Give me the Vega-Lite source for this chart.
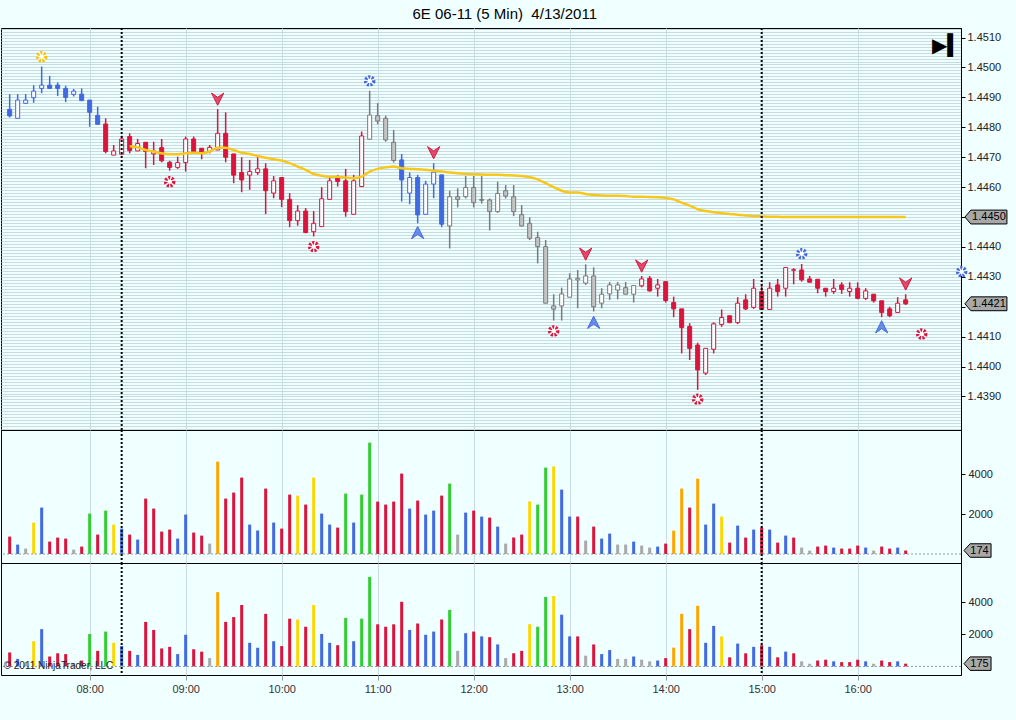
{
  "$schema": "https://vega.github.io/schema/vega-lite/v6.json",
  "description": "6E 06-11 5 minute candles with SMA, signals and volume, 4/13/2011",
  "background": "#F0FFFF",
  "padding": {"top": 7, "left": 0, "right": 11, "bottom": 30},
  "bounds": "flush",
  "title": {
    "text": "6E 06-11 (5 Min)\u00a0 4/13/2011",
    "font": "Liberation Sans",
    "fontSize": 15,
    "fontWeight": "normal",
    "color": "black",
    "anchor": "middle",
    "offset": 0
  },
  "config": {
    "view": {"stroke": "black", "strokeWidth": 1},
    "concat": {"spacing": 0},
    "axis": {
      "labelFont": "Liberation Sans",
      "labelFontSize": 11,
      "labelColor": "#222222",
      "domainColor": "black",
      "tickColor": "black",
      "gridColor": "#C6DCE2",
      "gridOpacity": 1
    }
  },
  "spacing": 0,
  "datasets": {
    "bars": [
      {"t": "2011-04-13 07:10", "o": 1.44860, "h": 1.44911, "l": 1.44833, "c": 1.44838, "k": "blue", "v": 870, "vk": "red", "ma": null},
      {"t": "2011-04-13 07:15", "o": 1.44830, "h": 1.44911, "l": 1.44830, "c": 1.44891, "k": "blue", "v": 470, "vk": "blue", "ma": null},
      {"t": "2011-04-13 07:20", "o": 1.44880, "h": 1.44911, "l": 1.44880, "c": 1.44891, "k": "blue", "v": 270, "vk": "gray", "ma": null},
      {"t": "2011-04-13 07:25", "o": 1.44899, "h": 1.44941, "l": 1.44882, "c": 1.44921, "k": "blue", "v": 1570, "vk": "yellow", "ma": null},
      {"t": "2011-04-13 07:30", "o": 1.44930, "h": 1.45003, "l": 1.44914, "c": 1.44941, "k": "blue", "v": 2320, "vk": "blue", "ma": null},
      {"t": "2011-04-13 07:35", "o": 1.44941, "h": 1.44972, "l": 1.44930, "c": 1.44930, "k": "blue", "v": 620, "vk": "red", "ma": null},
      {"t": "2011-04-13 07:40", "o": 1.44941, "h": 1.44950, "l": 1.44905, "c": 1.44930, "k": "blue", "v": 820, "vk": "red", "ma": null},
      {"t": "2011-04-13 07:45", "o": 1.44930, "h": 1.44939, "l": 1.44884, "c": 1.44900, "k": "blue", "v": 770, "vk": "red", "ma": null},
      {"t": "2011-04-13 07:50", "o": 1.44910, "h": 1.44928, "l": 1.44903, "c": 1.44921, "k": "blue", "v": 220, "vk": "gray", "ma": null},
      {"t": "2011-04-13 07:55", "o": 1.44911, "h": 1.44930, "l": 1.44889, "c": 1.44889, "k": "blue", "v": 370, "vk": "red", "ma": null},
      {"t": "2011-04-13 08:00", "o": 1.44891, "h": 1.44891, "l": 1.44802, "c": 1.44850, "k": "blue", "v": 2020, "vk": "green", "ma": null},
      {"t": "2011-04-13 08:05", "o": 1.44840, "h": 1.44869, "l": 1.44810, "c": 1.44810, "k": "blue", "v": 970, "vk": "red", "ma": null},
      {"t": "2011-04-13 08:10", "o": 1.44811, "h": 1.44830, "l": 1.44713, "c": 1.44719, "k": "red", "v": 2170, "vk": "green", "ma": null},
      {"t": "2011-04-13 08:15", "o": 1.44707, "h": 1.44741, "l": 1.44707, "c": 1.44721, "k": "red", "v": 1470, "vk": "yellow", "ma": null},
      {"t": "2011-04-13 08:20", "o": 1.44710, "h": 1.44772, "l": 1.44707, "c": 1.44761, "k": "red", "v": 1270, "vk": "blue", "ma": null},
      {"t": "2011-04-13 08:25", "o": 1.44769, "h": 1.44780, "l": 1.44713, "c": 1.44722, "k": "red", "v": 970, "vk": "red", "ma": 1.44737},
      {"t": "2011-04-13 08:30", "o": 1.44721, "h": 1.44761, "l": 1.44721, "c": 1.44746, "k": "red", "v": 720, "vk": "blue", "ma": 1.44733},
      {"t": "2011-04-13 08:35", "o": 1.44750, "h": 1.44750, "l": 1.44663, "c": 1.44719, "k": "red", "v": 2770, "vk": "red", "ma": 1.44724},
      {"t": "2011-04-13 08:40", "o": 1.44711, "h": 1.44752, "l": 1.44674, "c": 1.44721, "k": "red", "v": 2270, "vk": "red", "ma": 1.44719},
      {"t": "2011-04-13 08:45", "o": 1.44732, "h": 1.44761, "l": 1.44683, "c": 1.44688, "k": "red", "v": 1120, "vk": "red", "ma": 1.44713},
      {"t": "2011-04-13 08:50", "o": 1.44683, "h": 1.44688, "l": 1.44655, "c": 1.44666, "k": "red", "v": 1220, "vk": "red", "ma": 1.44710},
      {"t": "2011-04-13 08:55", "o": 1.44666, "h": 1.44702, "l": 1.44661, "c": 1.44682, "k": "red", "v": 770, "vk": "blue", "ma": 1.44710},
      {"t": "2011-04-13 09:00", "o": 1.44682, "h": 1.44769, "l": 1.44652, "c": 1.44761, "k": "red", "v": 1970, "vk": "blue", "ma": 1.44713},
      {"t": "2011-04-13 09:05", "o": 1.44761, "h": 1.44769, "l": 1.44719, "c": 1.44719, "k": "red", "v": 1070, "vk": "red", "ma": 1.44715},
      {"t": "2011-04-13 09:10", "o": 1.44730, "h": 1.44730, "l": 1.44693, "c": 1.44713, "k": "red", "v": 920, "vk": "red", "ma": 1.44713},
      {"t": "2011-04-13 09:15", "o": 1.44719, "h": 1.44741, "l": 1.44713, "c": 1.44733, "k": "red", "v": 520, "vk": "gray", "ma": 1.44719},
      {"t": "2011-04-13 09:20", "o": 1.44724, "h": 1.44861, "l": 1.44724, "c": 1.44780, "k": "red", "v": 4620, "vk": "orange", "ma": 1.44732},
      {"t": "2011-04-13 09:25", "o": 1.44780, "h": 1.44850, "l": 1.44683, "c": 1.44700, "k": "red", "v": 2770, "vk": "red", "ma": 1.44732},
      {"t": "2011-04-13 09:30", "o": 1.44711, "h": 1.44711, "l": 1.44613, "c": 1.44640, "k": "red", "v": 3070, "vk": "red", "ma": 1.44724},
      {"t": "2011-04-13 09:35", "o": 1.44649, "h": 1.44700, "l": 1.44583, "c": 1.44624, "k": "red", "v": 3820, "vk": "red", "ma": 1.44715},
      {"t": "2011-04-13 09:40", "o": 1.44640, "h": 1.44691, "l": 1.44591, "c": 1.44652, "k": "red", "v": 1470, "vk": "blue", "ma": 1.44711},
      {"t": "2011-04-13 09:45", "o": 1.44649, "h": 1.44700, "l": 1.44641, "c": 1.44661, "k": "red", "v": 1170, "vk": "blue", "ma": 1.44704},
      {"t": "2011-04-13 09:50", "o": 1.44661, "h": 1.44680, "l": 1.44510, "c": 1.44588, "k": "red", "v": 3270, "vk": "red", "ma": 1.44698},
      {"t": "2011-04-13 09:55", "o": 1.44580, "h": 1.44637, "l": 1.44563, "c": 1.44621, "k": "red", "v": 1570, "vk": "blue", "ma": 1.44693},
      {"t": "2011-04-13 10:00", "o": 1.44632, "h": 1.44632, "l": 1.44533, "c": 1.44559, "k": "red", "v": 1270, "vk": "red", "ma": 1.44689},
      {"t": "2011-04-13 10:05", "o": 1.44559, "h": 1.44580, "l": 1.44466, "c": 1.44488, "k": "red", "v": 2970, "vk": "red", "ma": 1.44680},
      {"t": "2011-04-13 10:10", "o": 1.44488, "h": 1.44540, "l": 1.44471, "c": 1.44520, "k": "red", "v": 2920, "vk": "yellow", "ma": 1.44669},
      {"t": "2011-04-13 10:15", "o": 1.44520, "h": 1.44530, "l": 1.44446, "c": 1.44448, "k": "red", "v": 2470, "vk": "red", "ma": 1.44658},
      {"t": "2011-04-13 10:20", "o": 1.44451, "h": 1.44520, "l": 1.44435, "c": 1.44479, "k": "red", "v": 3820, "vk": "yellow", "ma": 1.44644},
      {"t": "2011-04-13 10:25", "o": 1.44468, "h": 1.44600, "l": 1.44468, "c": 1.44561, "k": "red", "v": 2020, "vk": "blue", "ma": 1.44638},
      {"t": "2011-04-13 10:30", "o": 1.44559, "h": 1.44632, "l": 1.44559, "c": 1.44621, "k": "red", "v": 1470, "vk": "blue", "ma": 1.44635},
      {"t": "2011-04-13 10:35", "o": 1.44632, "h": 1.44641, "l": 1.44602, "c": 1.44619, "k": "red", "v": 1320, "vk": "red", "ma": 1.44635},
      {"t": "2011-04-13 10:40", "o": 1.44621, "h": 1.44661, "l": 1.44501, "c": 1.44518, "k": "red", "v": 3020, "vk": "green", "ma": 1.44632},
      {"t": "2011-04-13 10:45", "o": 1.44509, "h": 1.44641, "l": 1.44509, "c": 1.44621, "k": "red", "v": 1570, "vk": "blue", "ma": 1.44630},
      {"t": "2011-04-13 10:50", "o": 1.44602, "h": 1.44786, "l": 1.44602, "c": 1.44771, "k": "red", "v": 2970, "vk": "green", "ma": 1.44635},
      {"t": "2011-04-13 10:55", "o": 1.44760, "h": 1.44922, "l": 1.44760, "c": 1.44841, "k": "gray", "v": 5570, "vk": "green", "ma": 1.44652},
      {"t": "2011-04-13 11:00", "o": 1.44839, "h": 1.44881, "l": 1.44810, "c": 1.44821, "k": "gray", "v": 2620, "vk": "red", "ma": 1.44661},
      {"t": "2011-04-13 11:05", "o": 1.44830, "h": 1.44839, "l": 1.44752, "c": 1.44758, "k": "gray", "v": 2470, "vk": "red", "ma": 1.44666},
      {"t": "2011-04-13 11:10", "o": 1.44750, "h": 1.44791, "l": 1.44682, "c": 1.44689, "k": "gray", "v": 2620, "vk": "red", "ma": 1.44669},
      {"t": "2011-04-13 11:15", "o": 1.44691, "h": 1.44711, "l": 1.44552, "c": 1.44624, "k": "blue", "v": 4020, "vk": "red", "ma": 1.44663},
      {"t": "2011-04-13 11:20", "o": 1.44580, "h": 1.44649, "l": 1.44543, "c": 1.44632, "k": "blue", "v": 2270, "vk": "blue", "ma": 1.44661},
      {"t": "2011-04-13 11:25", "o": 1.44632, "h": 1.44641, "l": 1.44479, "c": 1.44507, "k": "blue", "v": 2670, "vk": "red", "ma": 1.44660},
      {"t": "2011-04-13 11:30", "o": 1.44509, "h": 1.44621, "l": 1.44509, "c": 1.44610, "k": "blue", "v": 1970, "vk": "blue", "ma": 1.44658},
      {"t": "2011-04-13 11:35", "o": 1.44610, "h": 1.44680, "l": 1.44563, "c": 1.44650, "k": "blue", "v": 2170, "vk": "blue", "ma": 1.44655},
      {"t": "2011-04-13 11:40", "o": 1.44641, "h": 1.44641, "l": 1.44466, "c": 1.44476, "k": "blue", "v": 2920, "vk": "red", "ma": 1.44652},
      {"t": "2011-04-13 11:45", "o": 1.44470, "h": 1.44588, "l": 1.44395, "c": 1.44568, "k": "gray", "v": 3520, "vk": "green", "ma": 1.44649},
      {"t": "2011-04-13 11:50", "o": 1.44568, "h": 1.44596, "l": 1.44532, "c": 1.44559, "k": "gray", "v": 970, "vk": "gray", "ma": 1.44646},
      {"t": "2011-04-13 11:55", "o": 1.44568, "h": 1.44637, "l": 1.44562, "c": 1.44599, "k": "gray", "v": 2070, "vk": "blue", "ma": 1.44644},
      {"t": "2011-04-13 12:00", "o": 1.44599, "h": 1.44637, "l": 1.44532, "c": 1.44548, "k": "gray", "v": 2170, "vk": "red", "ma": 1.44643},
      {"t": "2011-04-13 12:05", "o": 1.44559, "h": 1.44637, "l": 1.44545, "c": 1.44556, "k": "gray", "v": 1870, "vk": "blue", "ma": 1.44642},
      {"t": "2011-04-13 12:10", "o": 1.44557, "h": 1.44562, "l": 1.44455, "c": 1.44518, "k": "gray", "v": 1820, "vk": "red", "ma": 1.44641},
      {"t": "2011-04-13 12:15", "o": 1.44518, "h": 1.44618, "l": 1.44514, "c": 1.44579, "k": "gray", "v": 1370, "vk": "blue", "ma": 1.44641},
      {"t": "2011-04-13 12:20", "o": 1.44588, "h": 1.44607, "l": 1.44562, "c": 1.44570, "k": "gray", "v": 520, "vk": "gray", "ma": 1.44640},
      {"t": "2011-04-13 12:25", "o": 1.44568, "h": 1.44607, "l": 1.44503, "c": 1.44518, "k": "gray", "v": 820, "vk": "red", "ma": 1.44639},
      {"t": "2011-04-13 12:30", "o": 1.44508, "h": 1.44540, "l": 1.44468, "c": 1.44470, "k": "gray", "v": 970, "vk": "red", "ma": 1.44637},
      {"t": "2011-04-13 12:35", "o": 1.44479, "h": 1.44499, "l": 1.44423, "c": 1.44429, "k": "gray", "v": 2630, "vk": "yellow", "ma": 1.44633},
      {"t": "2011-04-13 12:40", "o": 1.44432, "h": 1.44451, "l": 1.44345, "c": 1.44401, "k": "gray", "v": 2470, "vk": "green", "ma": 1.44626},
      {"t": "2011-04-13 12:45", "o": 1.44401, "h": 1.44423, "l": 1.44212, "c": 1.44212, "k": "gray", "v": 4320, "vk": "green", "ma": 1.44613},
      {"t": "2011-04-13 12:50", "o": 1.44203, "h": 1.44242, "l": 1.44154, "c": 1.44192, "k": "gray", "v": 4380, "vk": "yellow", "ma": 1.44600},
      {"t": "2011-04-13 12:55", "o": 1.44203, "h": 1.44264, "l": 1.44154, "c": 1.44243, "k": "gray", "v": 3220, "vk": "blue", "ma": 1.44588},
      {"t": "2011-04-13 13:00", "o": 1.44232, "h": 1.44312, "l": 1.44232, "c": 1.44293, "k": "gray", "v": 1870, "vk": "blue", "ma": 1.44582},
      {"t": "2011-04-13 13:05", "o": 1.44290, "h": 1.44323, "l": 1.44195, "c": 1.44295, "k": "gray", "v": 1870, "vk": "red", "ma": 1.44582},
      {"t": "2011-04-13 13:10", "o": 1.44279, "h": 1.44342, "l": 1.44273, "c": 1.44303, "k": "gray", "v": 670, "vk": "gray", "ma": 1.44577},
      {"t": "2011-04-13 13:15", "o": 1.44303, "h": 1.44332, "l": 1.44184, "c": 1.44200, "k": "gray", "v": 1370, "vk": "red", "ma": 1.44574},
      {"t": "2011-04-13 13:20", "o": 1.44212, "h": 1.44262, "l": 1.44195, "c": 1.44242, "k": "gray", "v": 770, "vk": "blue", "ma": 1.44572},
      {"t": "2011-04-13 13:25", "o": 1.44243, "h": 1.44283, "l": 1.44223, "c": 1.44273, "k": "gray", "v": 1020, "vk": "blue", "ma": 1.44571},
      {"t": "2011-04-13 13:30", "o": 1.44256, "h": 1.44283, "l": 1.44225, "c": 1.44273, "k": "gray", "v": 470, "vk": "gray", "ma": 1.44571},
      {"t": "2011-04-13 13:35", "o": 1.44264, "h": 1.44283, "l": 1.44242, "c": 1.44242, "k": "gray", "v": 470, "vk": "gray", "ma": 1.44570},
      {"t": "2011-04-13 13:40", "o": 1.44242, "h": 1.44271, "l": 1.44214, "c": 1.44271, "k": "gray", "v": 620, "vk": "blue", "ma": 1.44568},
      {"t": "2011-04-13 13:45", "o": 1.44270, "h": 1.44303, "l": 1.44265, "c": 1.44293, "k": "red", "v": 420, "vk": "gray", "ma": 1.44568},
      {"t": "2011-04-13 13:50", "o": 1.44295, "h": 1.44303, "l": 1.44251, "c": 1.44253, "k": "red", "v": 320, "vk": "gray", "ma": 1.44567},
      {"t": "2011-04-13 13:55", "o": 1.44262, "h": 1.44293, "l": 1.44234, "c": 1.44273, "k": "red", "v": 370, "vk": "blue", "ma": 1.44566},
      {"t": "2011-04-13 14:00", "o": 1.44284, "h": 1.44284, "l": 1.44214, "c": 1.44221, "k": "red", "v": 520, "vk": "red", "ma": 1.44564},
      {"t": "2011-04-13 14:05", "o": 1.44214, "h": 1.44234, "l": 1.44165, "c": 1.44193, "k": "red", "v": 1170, "vk": "orange", "ma": 1.44559},
      {"t": "2011-04-13 14:10", "o": 1.44193, "h": 1.44193, "l": 1.44044, "c": 1.44131, "k": "red", "v": 3270, "vk": "orange", "ma": 1.44548},
      {"t": "2011-04-13 14:15", "o": 1.44134, "h": 1.44145, "l": 1.44022, "c": 1.44061, "k": "red", "v": 2320, "vk": "red", "ma": 1.44538},
      {"t": "2011-04-13 14:20", "o": 1.44072, "h": 1.44080, "l": 1.43922, "c": 1.43989, "k": "red", "v": 3770, "vk": "orange", "ma": 1.44526},
      {"t": "2011-04-13 14:25", "o": 1.43978, "h": 1.44061, "l": 1.43972, "c": 1.44061, "k": "red", "v": 1470, "vk": "blue", "ma": 1.44520},
      {"t": "2011-04-13 14:30", "o": 1.44058, "h": 1.44148, "l": 1.44044, "c": 1.44143, "k": "red", "v": 2520, "vk": "blue", "ma": 1.44516},
      {"t": "2011-04-13 14:35", "o": 1.44141, "h": 1.44191, "l": 1.44133, "c": 1.44164, "k": "red", "v": 1870, "vk": "yellow", "ma": 1.44513},
      {"t": "2011-04-13 14:40", "o": 1.44170, "h": 1.44170, "l": 1.44145, "c": 1.44147, "k": "red", "v": 570, "vk": "red", "ma": 1.44510},
      {"t": "2011-04-13 14:45", "o": 1.44147, "h": 1.44232, "l": 1.44142, "c": 1.44212, "k": "red", "v": 1420, "vk": "blue", "ma": 1.44508},
      {"t": "2011-04-13 14:50", "o": 1.44223, "h": 1.44242, "l": 1.44189, "c": 1.44193, "k": "red", "v": 820, "vk": "red", "ma": 1.44505},
      {"t": "2011-04-13 14:55", "o": 1.44198, "h": 1.44293, "l": 1.44193, "c": 1.44262, "k": "red", "v": 1220, "vk": "blue", "ma": 1.44503},
      {"t": "2011-04-13 15:00", "o": 1.44251, "h": 1.44273, "l": 1.44189, "c": 1.44191, "k": "red", "v": 1320, "vk": "red", "ma": 1.44502},
      {"t": "2011-04-13 15:05", "o": 1.44191, "h": 1.44282, "l": 1.44191, "c": 1.44262, "k": "red", "v": 1220, "vk": "blue", "ma": 1.44501},
      {"t": "2011-04-13 15:10", "o": 1.44273, "h": 1.44293, "l": 1.44234, "c": 1.44251, "k": "red", "v": 570, "vk": "red", "ma": 1.44501},
      {"t": "2011-04-13 15:15", "o": 1.44262, "h": 1.44331, "l": 1.44234, "c": 1.44331, "k": "red", "v": 920, "vk": "blue", "ma": 1.44500},
      {"t": "2011-04-13 15:20", "o": 1.44322, "h": 1.44329, "l": 1.44275, "c": 1.44324, "k": "red", "v": 820, "vk": "red", "ma": 1.44500},
      {"t": "2011-04-13 15:25", "o": 1.44323, "h": 1.44343, "l": 1.44284, "c": 1.44290, "k": "red", "v": 320, "vk": "gray", "ma": 1.44500},
      {"t": "2011-04-13 15:30", "o": 1.44293, "h": 1.44303, "l": 1.44282, "c": 1.44282, "k": "red", "v": 170, "vk": "gray", "ma": 1.44500},
      {"t": "2011-04-13 15:35", "o": 1.44292, "h": 1.44292, "l": 1.44245, "c": 1.44262, "k": "red", "v": 370, "vk": "red", "ma": 1.44500},
      {"t": "2011-04-13 15:40", "o": 1.44262, "h": 1.44262, "l": 1.44234, "c": 1.44251, "k": "red", "v": 420, "vk": "red", "ma": 1.44500},
      {"t": "2011-04-13 15:45", "o": 1.44251, "h": 1.44293, "l": 1.44243, "c": 1.44262, "k": "red", "v": 320, "vk": "blue", "ma": 1.44500},
      {"t": "2011-04-13 15:50", "o": 1.44273, "h": 1.44282, "l": 1.44243, "c": 1.44258, "k": "red", "v": 270, "vk": "red", "ma": 1.44500},
      {"t": "2011-04-13 15:55", "o": 1.44251, "h": 1.44282, "l": 1.44234, "c": 1.44262, "k": "red", "v": 270, "vk": "red", "ma": 1.44500},
      {"t": "2011-04-13 16:00", "o": 1.44262, "h": 1.44282, "l": 1.44225, "c": 1.44228, "k": "red", "v": 420, "vk": "red", "ma": 1.44500},
      {"t": "2011-04-13 16:05", "o": 1.44228, "h": 1.44262, "l": 1.44223, "c": 1.44253, "k": "red", "v": 320, "vk": "blue", "ma": 1.44500},
      {"t": "2011-04-13 16:10", "o": 1.44242, "h": 1.44242, "l": 1.44214, "c": 1.44220, "k": "red", "v": 170, "vk": "gray", "ma": 1.44500},
      {"t": "2011-04-13 16:15", "o": 1.44220, "h": 1.44220, "l": 1.44165, "c": 1.44181, "k": "red", "v": 370, "vk": "red", "ma": 1.44500},
      {"t": "2011-04-13 16:20", "o": 1.44193, "h": 1.44200, "l": 1.44165, "c": 1.44170, "k": "red", "v": 270, "vk": "red", "ma": 1.44500},
      {"t": "2011-04-13 16:25", "o": 1.44181, "h": 1.44232, "l": 1.44181, "c": 1.44212, "k": "red", "v": 320, "vk": "blue", "ma": 1.44500},
      {"t": "2011-04-13 16:30", "o": 1.44223, "h": 1.44242, "l": 1.44206, "c": 1.44210, "k": "red", "v": 174, "vk": "red", "ma": 1.44500}
    ],
    "signals": [
      {"t": "2011-04-13 07:30", "p": 1.45036, "s": "gear", "k": "yellow"},
      {"t": "2011-04-13 08:50", "p": 1.44618, "s": "gear", "k": "red"},
      {"t": "2011-04-13 09:20", "p": 1.44894, "s": "down", "k": "red"},
      {"t": "2011-04-13 10:20", "p": 1.44401, "s": "gear", "k": "red"},
      {"t": "2011-04-13 10:55", "p": 1.44955, "s": "gear", "k": "blue"},
      {"t": "2011-04-13 11:25", "p": 1.44448, "s": "up", "k": "blue"},
      {"t": "2011-04-13 11:35", "p": 1.44715, "s": "down", "k": "red"},
      {"t": "2011-04-13 12:50", "p": 1.44119, "s": "gear", "k": "red"},
      {"t": "2011-04-13 13:10", "p": 1.44376, "s": "down", "k": "red"},
      {"t": "2011-04-13 13:15", "p": 1.44148, "s": "up", "k": "blue"},
      {"t": "2011-04-13 13:45", "p": 1.44336, "s": "down", "k": "red"},
      {"t": "2011-04-13 14:20", "p": 1.43891, "s": "gear", "k": "red"},
      {"t": "2011-04-13 15:25", "p": 1.44377, "s": "gear", "k": "blue"},
      {"t": "2011-04-13 16:15", "p": 1.44133, "s": "up", "k": "blue"},
      {"t": "2011-04-13 16:30", "p": 1.44276, "s": "down", "k": "red"},
      {"t": "2011-04-13 16:40", "p": 1.44109, "s": "gear", "k": "red"},
      {"t": "2011-04-13 17:05", "p": 1.44317, "s": "gear", "k": "blue"}
    ],
    "sessions": [
      {"t": "2011-04-13 08:20"},
      {"t": "2011-04-13 15:00"}
    ],
    "priceTags": [
      {"p": 1.4450, "label": "1.4450"},
      {"p": 1.4421, "label": "1.4421"}
    ]
  },
  "vconcat": [
    {
      "width": 960,
      "height": 402,
      "layer": [
        {
          "data": {"name": "bars"},
          "mark": {"type": "rule", "strokeWidth": 1.5},
          "encoding": {
            "x": {
              "field": "t",
              "type": "temporal",
              "title": null,
              "scale": {"domain": [
                {"year": 2011, "month": 4, "date": 13, "hours": 7, "minutes": 4, "seconds": 35},
                {"year": 2011, "month": 4, "date": 13, "hours": 17, "minutes": 4, "seconds": 35}
              ], "nice": false, "padding": 0},
              "axis": {
                "labels": false,
                "ticks": false,
                "domain": false,
                "grid": true,
                "minExtent": 0,
                "maxExtent": 0,
                "values": [
                  {"year": 2011, "month": 4, "date": 13, "hours": 8},
                  {"year": 2011, "month": 4, "date": 13, "hours": 9},
                  {"year": 2011, "month": 4, "date": 13, "hours": 10},
                  {"year": 2011, "month": 4, "date": 13, "hours": 11},
                  {"year": 2011, "month": 4, "date": 13, "hours": 12},
                  {"year": 2011, "month": 4, "date": 13, "hours": 13},
                  {"year": 2011, "month": 4, "date": 13, "hours": 14},
                  {"year": 2011, "month": 4, "date": 13, "hours": 15},
                  {"year": 2011, "month": 4, "date": 13, "hours": 16}
                ]
              }
            },
            "y": {
              "field": "l",
              "type": "quantitative",
              "title": null,
              "scale": {"domain": [1.43788, 1.45132], "nice": false, "zero": false},
              "axis": {
                "orient": "right",
                "tickCount": 134,
                "grid": true,
                "domain": true,
                "tickSize": 4,
                "labelPadding": 2,
                "labelOverlap": false,
                "labelExpr": "abs(datum.value * 1000 - round(datum.value * 1000)) < 0.05 && datum.value > 1.4385 && abs(datum.value - 1.442) > 0.00005 && abs(datum.value - 1.445) > 0.00005 ? format(datum.value, '.4f') : ''",
                "tickOpacity": {"condition": {"test": "abs(datum.value * 1000 - round(datum.value * 1000)) < 0.05 && datum.value > 1.4385", "value": 1}, "value": 0}
              }
            },
            "y2": {"field": "h"},
            "stroke": {
              "field": "k",
              "type": "nominal",
              "legend": null,
              "scale": {"domain": ["blue", "red", "gray", "yellow"], "range": ["#4169E1", "#DC143C", "#7A7A7A", "#F5C400"]}
            }
          }
        },
        {
          "data": {"name": "bars"},
          "mark": {"type": "bar", "size": 4, "strokeWidth": 1},
          "encoding": {
            "x": {"field": "t", "type": "temporal"},
            "y": {"field": "o", "type": "quantitative", "title": null},
            "y2": {"field": "c"},
            "stroke": {"field": "k", "type": "nominal", "legend": null},
            "fill": {
              "condition": {"test": "datum.c >= datum.o", "value": "white"},
              "field": "k",
              "type": "nominal",
              "legend": null,
              "scale": {"domain": ["blue", "red", "gray", "yellow"], "range": ["#4169E1", "#DC143C", "#C4C4C4", "#F5C400"]}
            }
          }
        },
        {
          "data": {"name": "bars"},
          "mark": {"type": "line", "color": "#F7C81A", "strokeWidth": 2.5, "interpolate": "monotone"},
          "encoding": {
            "x": {"field": "t", "type": "temporal"},
            "y": {"field": "ma", "type": "quantitative", "title": null}
          }
        },
        {
          "data": {"name": "sessions"},
          "mark": {"type": "rule", "color": "black", "strokeWidth": 2, "strokeDash": [2, 2]},
          "encoding": {
            "x": {"field": "t", "type": "temporal"}
          }
        },
        {
          "data": {"name": "signals"},
          "transform": [{"filter": "datum.s == 'gear'"}],
          "mark": {"type": "point", "shape": "circle", "filled": false, "fill": "white", "fillOpacity": 1, "size": 64, "strokeWidth": 3.5, "strokeDash": [2, 1.4], "opacity": 1},
          "encoding": {
            "x": {"field": "t", "type": "temporal"},
            "y": {"field": "p", "type": "quantitative", "title": null},
            "stroke": {"field": "k", "type": "nominal", "legend": null}
          }
        },
        {
          "data": {"name": "signals"},
          "transform": [{"filter": "datum.s != 'gear'"}],
          "mark": {"type": "point", "filled": true, "size": 150, "opacity": 1, "fillOpacity": 0.75, "strokeWidth": 1},
          "encoding": {
            "x": {"field": "t", "type": "temporal"},
            "y": {"field": "p", "type": "quantitative", "title": null},
            "shape": {
              "field": "s",
              "type": "nominal",
              "legend": null,
              "scale": {"domain": ["down", "up"], "range": ["M-1,-1L0,1L1,-1L0,-0.3Z", "M-1,1L0,-1L1,1L0,0.3Z"]}
            },
            "fill": {"field": "k", "type": "nominal", "legend": null},
            "stroke": {"field": "k", "type": "nominal", "legend": null}
          }
        },
        {
          "data": {"name": "priceTags"},
          "mark": {"type": "point", "filled": true, "fill": "#A8A8A8", "stroke": "black", "strokeWidth": 1, "opacity": 1, "size": 1764, "shape": "M-1,0L-0.72,-0.33L1,-0.33L1,0.33L-0.72,0.33Z"},
          "encoding": {
            "x": {"datum": {"year": 2011, "month": 4, "date": 13, "hours": 17, "minutes": 20, "seconds": 10}, "type": "temporal"},
            "y": {"field": "p", "type": "quantitative", "title": null}
          }
        },
        {
          "data": {"name": "priceTags"},
          "mark": {"type": "text", "font": "Liberation Sans", "fontSize": 11, "color": "black", "dx": 3, "align": "center", "baseline": "middle"},
          "encoding": {
            "x": {"datum": {"year": 2011, "month": 4, "date": 13, "hours": 17, "minutes": 20, "seconds": 10}, "type": "temporal"},
            "y": {"field": "p", "type": "quantitative", "title": null},
            "text": {"field": "label"}
          }
        },
        {
          "data": {"values": [{"icon": "▶▍"}]},
          "mark": {"type": "text", "font": "DejaVu Sans", "fontSize": 20, "color": "black", "align": "center", "baseline": "middle"},
          "encoding": {
            "x": {"datum": {"year": 2011, "month": 4, "date": 13, "hours": 16, "minutes": 56, "seconds": 0}, "type": "temporal"},
            "y": {"datum": 1.45072, "type": "quantitative"},
            "text": {"field": "icon"}
          }
        }
      ]
    },
    {
      "width": 960,
      "height": 133,
      "layer": [
        {
          "data": {"name": "bars"},
          "mark": {"type": "bar", "size": 3},
          "encoding": {
            "x": {
              "field": "t",
              "type": "temporal",
              "title": null,
              "scale": {"domain": [
                {"year": 2011, "month": 4, "date": 13, "hours": 7, "minutes": 4, "seconds": 35},
                {"year": 2011, "month": 4, "date": 13, "hours": 17, "minutes": 4, "seconds": 35}
              ], "nice": false, "padding": 0},
              "axis": {
                "labels": false,
                "ticks": false,
                "domain": false,
                "grid": true,
                "minExtent": 0,
                "maxExtent": 0,
                "values": [
                  {"year": 2011, "month": 4, "date": 13, "hours": 8},
                  {"year": 2011, "month": 4, "date": 13, "hours": 9},
                  {"year": 2011, "month": 4, "date": 13, "hours": 10},
                  {"year": 2011, "month": 4, "date": 13, "hours": 11},
                  {"year": 2011, "month": 4, "date": 13, "hours": 12},
                  {"year": 2011, "month": 4, "date": 13, "hours": 13},
                  {"year": 2011, "month": 4, "date": 13, "hours": 14},
                  {"year": 2011, "month": 4, "date": 13, "hours": 15},
                  {"year": 2011, "month": 4, "date": 13, "hours": 16}
                ]
              }
            },
            "y": {
              "field": "v",
              "type": "quantitative",
              "title": null,
              "scale": {"domain": [-450, 6200], "nice": false, "zero": false},
              "axis": {"orient": "right", "values": [2000, 4000], "format": "d", "grid": false, "tickSize": 4, "labelPadding": 3}
            },
            "y2": {"datum": 0},
            "color": {
              "field": "vk",
              "type": "nominal",
              "legend": null,
              "scale": {"domain": ["red", "blue", "gray", "yellow", "green", "orange"], "range": ["#DC143C", "#4169E1", "#A9A9A9", "#FFD700", "#32CD32", "#FFA500"]}
            }
          }
        },
        {
          "data": {"values": [{"v": 0}]},
          "mark": {"type": "rule", "color": "#9A9A9A", "strokeWidth": 1, "strokeDash": [2, 2]},
          "encoding": {"y": {"field": "v", "type": "quantitative", "title": null}}
        },
        {
          "data": {"name": "sessions"},
          "mark": {"type": "rule", "color": "black", "strokeWidth": 2, "strokeDash": [2, 2]},
          "encoding": {"x": {"field": "t", "type": "temporal"}}
        },
        {
          "data": {"values": [{"v": 174}]},
          "mark": {"type": "point", "filled": true, "fill": "#A8A8A8", "stroke": "black", "strokeWidth": 1, "opacity": 1, "size": 729, "shape": "M-1,0L-0.55,-0.5L1,-0.5L1,0.5L-0.55,0.5Z"},
          "encoding": {
            "x": {"datum": {"year": 2011, "month": 4, "date": 13, "hours": 17, "minutes": 14, "seconds": 55}, "type": "temporal"},
            "y": {"field": "v", "type": "quantitative", "title": null}
          }
        },
        {
          "data": {"values": [{"v": 174}]},
          "mark": {"type": "text", "font": "Liberation Sans", "fontSize": 11, "color": "black", "dx": 2, "align": "center", "baseline": "middle"},
          "encoding": {
            "x": {"datum": {"year": 2011, "month": 4, "date": 13, "hours": 17, "minutes": 14, "seconds": 55}, "type": "temporal"},
            "y": {"field": "v", "type": "quantitative", "title": null},
            "text": {"field": "v"}
          }
        }
      ]
    },
    {
      "width": 960,
      "height": 112,
      "layer": [
        {
          "data": {"name": "bars"},
          "mark": {"type": "bar", "size": 3},
          "encoding": {
            "x": {
              "field": "t",
              "type": "temporal",
              "title": null,
              "scale": {"domain": [
                {"year": 2011, "month": 4, "date": 13, "hours": 7, "minutes": 4, "seconds": 35},
                {"year": 2011, "month": 4, "date": 13, "hours": 17, "minutes": 4, "seconds": 35}
              ], "nice": false, "padding": 0},
              "axis": {
                "format": "%H:%M",
                "grid": true,
                "domain": false,
                "tickSize": 5,
                "tickColor": "#999999",
                "labelPadding": 3,
                "labelColor": "#333333",
                "values": [
                  {"year": 2011, "month": 4, "date": 13, "hours": 8},
                  {"year": 2011, "month": 4, "date": 13, "hours": 9},
                  {"year": 2011, "month": 4, "date": 13, "hours": 10},
                  {"year": 2011, "month": 4, "date": 13, "hours": 11},
                  {"year": 2011, "month": 4, "date": 13, "hours": 12},
                  {"year": 2011, "month": 4, "date": 13, "hours": 13},
                  {"year": 2011, "month": 4, "date": 13, "hours": 14},
                  {"year": 2011, "month": 4, "date": 13, "hours": 15},
                  {"year": 2011, "month": 4, "date": 13, "hours": 16}
                ]
              }
            },
            "y": {
              "field": "v",
              "type": "quantitative",
              "title": null,
              "scale": {"domain": [-530, 6430], "nice": false, "zero": false},
              "axis": {"orient": "right", "values": [2000, 4000], "format": "d", "grid": false, "tickSize": 4, "labelPadding": 3}
            },
            "y2": {"datum": 0},
            "color": {"field": "vk", "type": "nominal", "legend": null}
          }
        },
        {
          "data": {"values": [{"v": 0}]},
          "mark": {"type": "rule", "color": "#9A9A9A", "strokeWidth": 1, "strokeDash": [2, 2]},
          "encoding": {"y": {"field": "v", "type": "quantitative", "title": null}}
        },
        {
          "data": {"name": "sessions"},
          "mark": {"type": "rule", "color": "black", "strokeWidth": 2, "strokeDash": [2, 2]},
          "encoding": {"x": {"field": "t", "type": "temporal"}}
        },
        {
          "data": {"values": [{"v": 175}]},
          "mark": {"type": "point", "filled": true, "fill": "#A8A8A8", "stroke": "black", "strokeWidth": 1, "opacity": 1, "size": 729, "shape": "M-1,0L-0.55,-0.5L1,-0.5L1,0.5L-0.55,0.5Z"},
          "encoding": {
            "x": {"datum": {"year": 2011, "month": 4, "date": 13, "hours": 17, "minutes": 14, "seconds": 55}, "type": "temporal"},
            "y": {"field": "v", "type": "quantitative", "title": null}
          }
        },
        {
          "data": {"values": [{"v": 175}]},
          "mark": {"type": "text", "font": "Liberation Sans", "fontSize": 11, "color": "black", "dx": 2, "align": "center", "baseline": "middle"},
          "encoding": {
            "x": {"datum": {"year": 2011, "month": 4, "date": 13, "hours": 17, "minutes": 14, "seconds": 55}, "type": "temporal"},
            "y": {"field": "v", "type": "quantitative", "title": null},
            "text": {"field": "v"}
          }
        },
        {
          "data": {"values": [{"note": "© 2011 NinjaTrader, LLC", "v": 0}]},
          "mark": {"type": "text", "font": "Liberation Sans", "fontSize": 10, "color": "#222222", "align": "left", "baseline": "middle", "dx": 2},
          "encoding": {
            "x": {"datum": {"year": 2011, "month": 4, "date": 13, "hours": 7, "minutes": 5}, "type": "temporal"},
            "y": {"field": "v", "type": "quantitative", "title": null},
            "text": {"field": "note"}
          }
        }
      ]
    }
  ]
}
